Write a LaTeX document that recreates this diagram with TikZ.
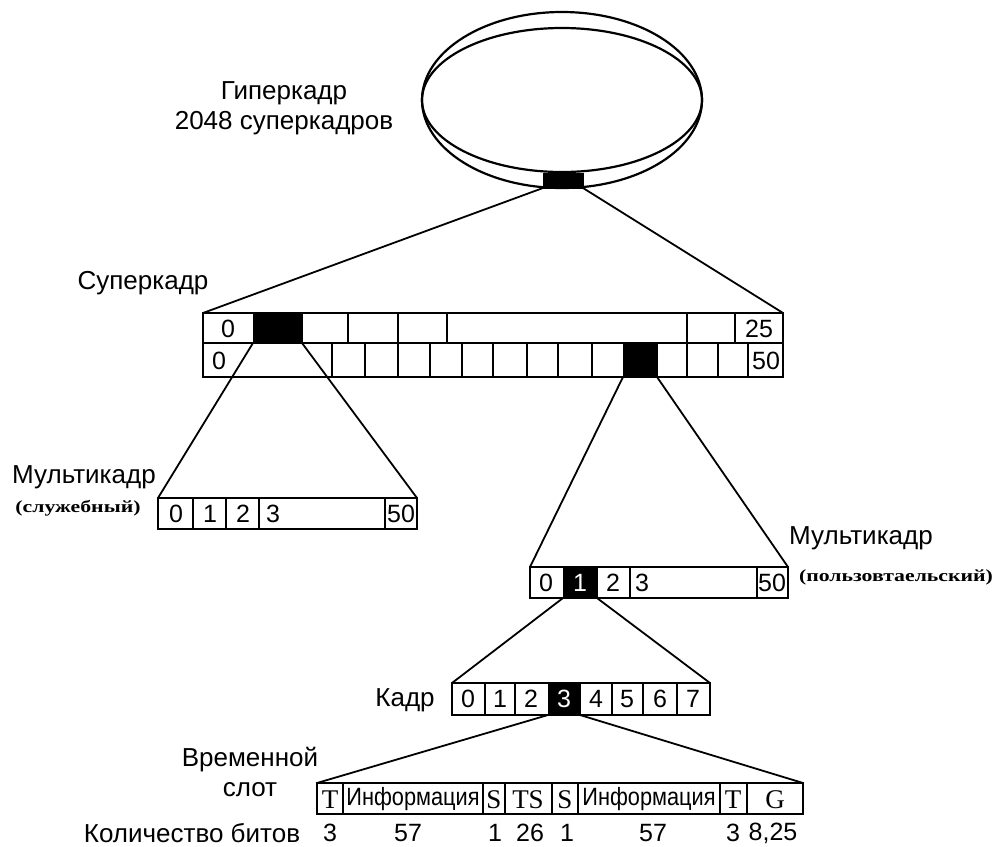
\documentclass[tikz,border=0pt]{standalone}
\usepackage{fontspec}
\setmainfont{Liberation Sans}
\newfontfamily\serifb{Liberation Serif}
\usepackage{graphicx}
\begin{document}
\begin{tikzpicture}[x=1pt,y=-1pt,
  box/.style={draw, line width=2.2pt, inner sep=0pt, outer sep=0pt},
  blk/.style={draw, fill=black, line width=1pt, inner sep=0pt, outer sep=0pt, text=white},
  conn/.style={line width=1.8pt},
  div/.style={line width=2pt},
  ring/.style={line width=2.2pt},
  lbl/.style={font=\fontsize{26}{28}\selectfont, inner sep=0pt},
  num/.style={font=\fontsize{25}{27}\selectfont, inner sep=0pt},
  ser/.style={font=\serifb\fontsize{27}{29}\selectfont, inner sep=0pt},
  inf/.style={font=\fontsize{25}{27}\selectfont, inner sep=0pt},
  sub/.style={font=\serifb\bfseries\fontsize{17}{19}\selectfont, inner sep=0pt}]
\useasboundingbox (0,0) rectangle (993,846);

% hyperframe ring
\draw[ring] (562,100) ellipse [x radius=140, y radius=88];
\draw[ring] (562,100) ellipse [x radius=140, y radius=72];
\node[blk, minimum width=40pt, minimum height=15pt, anchor=north west] (hb) at (543,173) {};
\node[lbl] (hyp1) at (284,93) {Гиперкадр};
\node[lbl] (hyp2) at (284,123) {2048 суперкадров};

% superframe
\node[box, minimum width=580pt, minimum height=64pt, anchor=north west] (sf) at (203,313) {};
\draw[div] (203,343) -- (783,343);
\foreach \x in {348,398,447,687,735} \draw[div] (\x,313) -- (\x,343);
\foreach \x in {332,365,398,430,462,493,527,558,592,687,718,748} \draw[div] (\x,343) -- (\x,377);
\node[blk, minimum width=49pt, minimum height=30pt, anchor=north west] (sb1) at (253,313) {};
\node[blk, minimum width=34pt, minimum height=34pt, anchor=north west] (sb2) at (623,343) {};
\node[num] (s0a) at (228,329) {0};
\node[num] (s0b) at (219,361) {0};
\node[num] (s25) at (759,329) {25};
\node[num] (s50) at (766,361) {50};
\node[lbl] (suplbl) at (143,283) {Суперкадр};
\draw[conn] (hb.south west) -- (sf.north west);
\draw[conn] (hb.south east) -- (sf.north east);

% multiframe left
\node[box, minimum width=259pt, minimum height=31pt, anchor=north west] (mfl) at (158,498) {};
\foreach \x in {193,226,259,385} \draw[div] (\x,498) -- (\x,529);
\node[num] (l0) at (176,514) {0};
\node[num] (l1) at (210,514) {1};
\node[num] (l2) at (243,514) {2};
\node[num] (l3) at (273,514) {3};
\node[num] (l50) at (401,514) {50};
\node[lbl] (mfllbl) at (84,477) {Мультикадр};
\node[sub] (mflsub) at (78,508) {\scalebox{1.28}[1]{(служебный)}};
\draw[conn] (sb1.south west) -- (mfl.north west);
\draw[conn] (sb1.south east) -- (mfl.north east);

% multiframe right
\node[box, minimum width=258pt, minimum height=31pt, anchor=north west] (mfr) at (530,567) {};
\foreach \x in {630,757} \draw[div] (\x,567) -- (\x,598);
\node[blk, minimum width=34pt, minimum height=31pt, anchor=north west, font=\fontsize{25}{27}\selectfont] (mb) at (563,567) {1};
\node[num] (r0) at (546,583) {0};
\node[num] (r2) at (613,583) {2};
\node[num] (r3) at (642,583) {3};
\node[num] (r50) at (772,583) {50};
\node[lbl] (mfrlbl) at (861,538) {Мультикадр};
\node[sub] (mfrsub) at (896,577) {\scalebox{1.28}[1]{(пользовтаельский)}};
\draw[conn] (sb2.south west) -- (mfr.north west);
\draw[conn] (sb2.south east) -- (mfr.north east);

% frame
\node[box, minimum width=258pt, minimum height=32pt, anchor=north west] (fr) at (452,683) {};
\foreach \x in {485,515,612,643,677} \draw[div] (\x,683) -- (\x,715);
\node[blk, minimum width=32pt, minimum height=32pt, anchor=north west, font=\fontsize{25}{27}\selectfont] (fb) at (548,683) {3};
\node[num] (f0) at (468,699) {0};
\node[num] (f1) at (500,699) {1};
\node[num] (f2) at (531,699) {2};
\node[num] (f4) at (596,699) {4};
\node[num] (f5) at (627,699) {5};
\node[num] (f6) at (660,699) {6};
\node[num] (f7) at (693,699) {7};
\node[lbl] (frlbl) at (405,700) {Кадр};
\draw[conn] (mb.south west) -- (fr.north west);
\draw[conn] (mb.south east) -- (fr.north east);

% time slot
\node[box, minimum width=486pt, minimum height=31pt, anchor=north west] (ts) at (317,783) {};
\foreach \x in {343,483,505,552,578,720,747} \draw[div] (\x,783) -- (\x,814);
\node[ser] (tT1) at (330,800) {T};
\node[inf] (tI1) at (413,799) {\scalebox{0.87}[1]{Информация}};
\node[ser] (tS1) at (494,800) {S};
\node[ser] (tTS) at (528,800) {TS};
\node[ser] (tS2) at (565,800) {S};
\node[inf] (tI2) at (649,799) {\scalebox{0.87}[1]{Информация}};
\node[ser] (tT2) at (733,800) {T};
\node[ser] (tG) at (775,800) {G};
\node[lbl] (tslbl1) at (250,760) {Временной};
\node[lbl] (tslbl2) at (250,790) {слот};
\draw[conn] (fb.south west) -- (ts.north west);
\draw[conn] (fb.south east) -- (ts.north east);

% bits
\node[lbl] (bitslbl) at (192,833) {Количество битов};
\node[num] (b1) at (330,833) {3};
\node[num] (b2) at (408,833) {57};
\node[num] (b3) at (495,833) {1};
\node[num] (b4) at (530,833) {26};
\node[num] (b5) at (567,833) {1};
\node[num] (b6) at (653,833) {57};
\node[num] (b7) at (733,833) {3};
\node[num] (b8) at (773,833) {8,25};
\end{tikzpicture}
\end{document}
